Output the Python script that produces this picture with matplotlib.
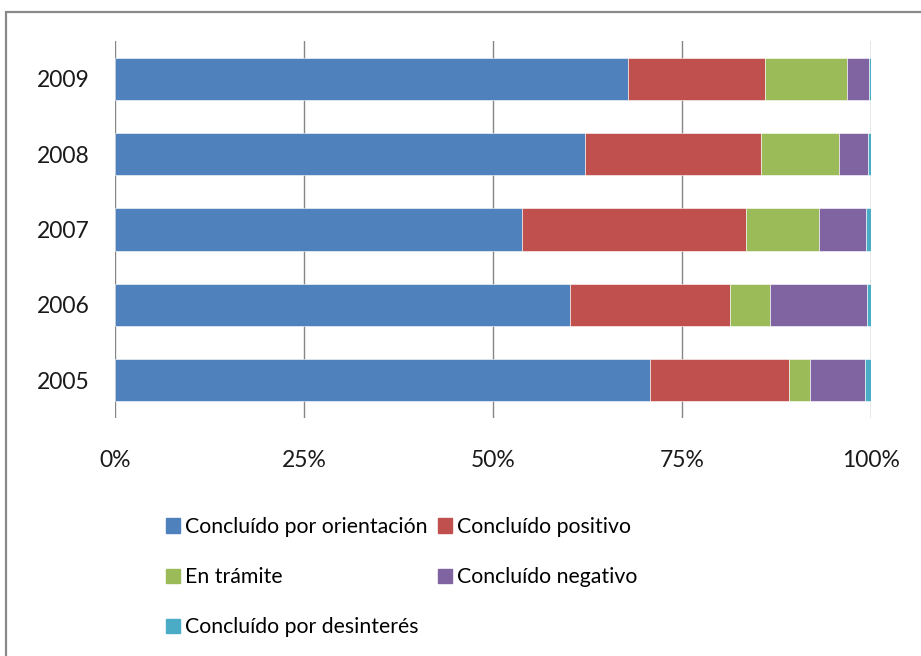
import matplotlib.pyplot as plt
from matplotlib.patches import Rectangle, Patch

years = ["2005", "2006", "2007", "2008", "2009"]
orientacion = [70.8, 60.2, 53.8, 62.2, 67.9]
positivo = [18.4, 21.1, 29.7, 23.3, 18.1]
tramite = [2.7, 5.4, 9.6, 10.3, 10.8]
negativo = [7.3, 12.8, 6.2, 3.8, 3.0]
desinteres = [0.8, 0.5, 0.7, 0.4, 0.2]

labels = ["Concluído por orientación", "Concluído positivo", "En trámite",
          "Concluído negativo", "Concluído por desinterés"]
colors = ["#4F81BD", "#C0504D", "#9BBB59", "#8064A2", "#4BACC6"]
series = [orientacion, positivo, tramite, negativo, desinteres]

plt.rcParams["font.family"] = ["Lato", "DejaVu Sans"]

fig = plt.figure(figsize=(9.21, 6.56), dpi=100)
ax = fig.add_axes([115 / 921, 1 - 418 / 656, 756 / 921, 377 / 656])

left = [0] * len(years)
for vals, col, lab in zip(series, colors, labels):
    ax.barh(years, vals, left=left, height=0.56, color=col, label=lab,
            edgecolor="#ffffff", linewidth=0.4, zorder=3)
    left = [a + b for a, b in zip(left, vals)]

ax.set_xlim(0, 100)
ax.set_ylim(-0.5, len(years) - 0.5)
ax.set_xticks([0, 25, 50, 75, 100])
ax.set_xticklabels(["0%", "25%", "50%", "75%", "100%"])
ax.grid(axis="x", color="#868686", linewidth=1.0, zorder=0)
for s in ax.spines.values():
    s.set_visible(False)
ax.tick_params(axis="both", length=0, labelsize=16.5, colors="#1a1a1a")
ax.tick_params(axis="x", pad=23)
ax.tick_params(axis="y", pad=18)

# legend: two columns, row-wise order like the original
handles = [Patch(color=c) for c in colors]
order = [0, 2, 4, 1, 3]
fig.legend([handles[i] for i in order], [labels[i] for i in order],
           loc="upper left", bbox_to_anchor=(166 / 921, 1 - 517 / 656),
           ncol=2, frameon=False, fontsize=15.3, handlelength=0.65,
           handleheight=0.65, handletextpad=0.25, labelspacing=1.42,
           columnspacing=0.5, borderpad=0, borderaxespad=0)

# outer chart frame (cut off at right and bottom)
fig.patches.append(Rectangle((6 / 921, -0.1), 1.2, 1 - 12 / 656 + 0.1,
                             transform=fig.transFigure, fill=False,
                             edgecolor="#898989", linewidth=1.6))

fig.savefig("out.png", dpi=100)
